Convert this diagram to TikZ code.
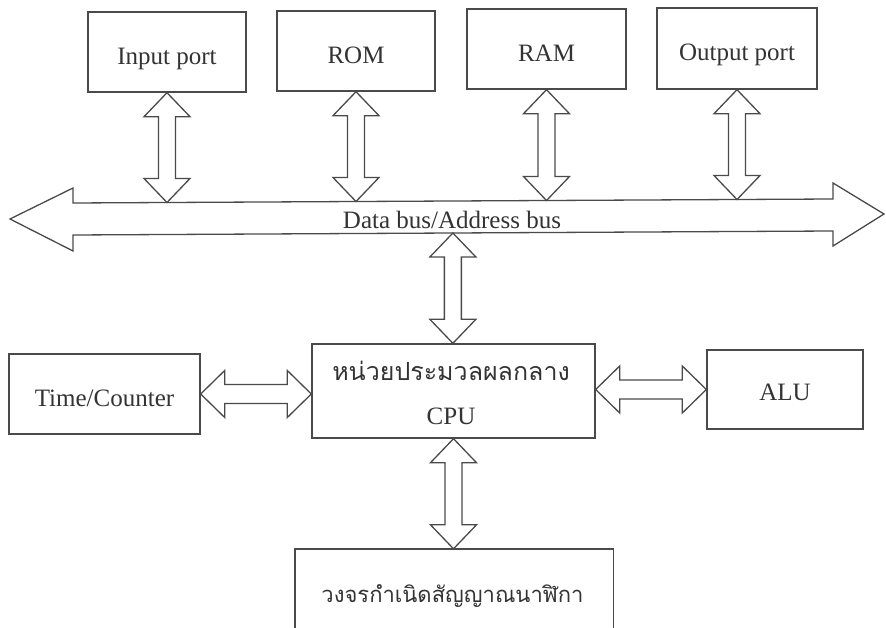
\documentclass[tikz,border=0pt]{standalone}
\usepackage{fontspec}
\setmainfont{Liberation Serif}
\newfontfamily\thaifont[Script=Thai]{Loma}
\usetikzlibrary{calc}
\definecolor{ink}{HTML}{4A4A4A}
\definecolor{txt}{HTML}{333333}
\tikzset{
  unitbox/.style={draw=ink, line width=1.4pt, text=txt, inner sep=0pt,
    font=\fontsize{25}{30}\selectfont, text height=30pt, text depth=5pt},
  blk/.style={draw=ink, line width=1.3pt, fill=white, line join=miter, miter limit=10},
  lbl/.style={text=txt, inner sep=0pt, anchor=base, font=\fontsize{25}{30}\selectfont},
  thlbl/.style={text=txt, inner sep=0pt, anchor=base, font=\fontsize{25}{30}\selectfont\thaifont},
}
% vertical two-headed block arrow: #1 upper end, #2 lower end
\newcommand\vlink[2]{%
  \draw[blk] let \p1=(#1), \p2=(#2) in
    (\x1,\y1) -- (\x1+23pt,\y1-24pt) -- (\x1+8.5pt,\y1-24pt) -- (\x1+8.5pt,\y2+24pt)
    -- (\x1+23pt,\y2+24pt) -- (\x1,\y2) -- (\x1-23pt,\y2+24pt) -- (\x1-8.5pt,\y2+24pt)
    -- (\x1-8.5pt,\y1-24pt) -- (\x1-23pt,\y1-24pt) -- cycle;}
% horizontal two-headed block arrow: #1 left end, #2 right end
\newcommand\hlink[2]{%
  \draw[blk] let \p1=(#1), \p2=(#2) in
    (\x1,\y1) -- (\x1+24pt,\y1+23.5pt) -- (\x1+24pt,\y1+9.5pt) -- (\x2-24pt,\y1+9.5pt)
    -- (\x2-24pt,\y1+23.5pt) -- (\x2,\y1) -- (\x2-24pt,\y1-23.5pt) -- (\x2-24pt,\y1-9.5pt)
    -- (\x1+24pt,\y1-9.5pt) -- (\x1+24pt,\y1-23.5pt) -- cycle;}
\begin{document}
\begin{tikzpicture}[x=1pt,y=-1pt]
\useasboundingbox (0,0) rectangle (886,628);

% system bus
\coordinate (tl) at (73,203); \coordinate (tr) at (833,199);
\coordinate (bl) at (73,235); \coordinate (br) at (833,231);
\draw[blk] (10,219) -- (73,188) -- (tl) -- (tr) -- (833,183) -- (884,214)
  -- (833,246) -- (br) -- (bl) -- (73,251) -- cycle;
\node[lbl] (bus) at (452,229) {Data bus/Address bus};

% peripherals on the bus
\node[unitbox, minimum width=158pt, minimum height=80pt] (inp) at (167,52) {Input port};
\node[unitbox, minimum width=158pt, minimum height=80pt] (rom) at (356,51) {ROM};
\node[unitbox, minimum width=159pt, minimum height=80pt] (ram) at (546.5,49) {RAM};
\node[unitbox, minimum width=160pt, minimum height=81pt] (outp) at (737,48.5) {Output port};

\coordinate (inpbus) at ($(tl)!(inp.south)!(tr)$);
\coordinate (rombus) at ($(tl)!(rom.south)!(tr)$);
\coordinate (rambus) at ($(tl)!(ram.south)!(tr)$);
\coordinate (outbus) at ($(tl)!(outp.south)!(tr)$);
\vlink{inp.south}{inpbus}
\vlink{rom.south}{rombus}
\vlink{ram.south}{rambus}
\vlink{outp.south}{outbus}

% processor and its neighbours
\node[unitbox, minimum width=283pt, minimum height=94pt] (cpu) at (453.5,391) {};
\node[thlbl] (cputh) at (451,380) {หน่วยประมวลผลกลาง};
\node[lbl] (cpuen) at (451,424) {CPU};

\node[unitbox, minimum width=191pt, minimum height=80pt] (tc) at (104.5,394) {Time/Counter};
\node[unitbox, minimum width=156pt, minimum height=79pt, text height=27pt] (alu) at (785,389.5) {ALU};

\coordinate (cpubus) at ($(bl)!(cpu.north)!(br)$);
\vlink{cpubus}{cpu.north}
\hlink{tc.east}{cpu.west |- tc.east}
\hlink{cpu.east |- alu.west}{alu.west}

% clock generator
\node[minimum width=318pt, minimum height=82pt, inner sep=0pt] (clk) at (454,590) {};
\draw[draw=ink, line width=1.4pt] (clk.south west) -- (clk.north west) -- (clk.north east) -- (clk.south east);
\node[thlbl, font=\fontsize{22}{27}\selectfont\thaifont] (clktxt) at (452.5,602) {วงจรกำเนิดสัญญาณนาฬิกา};
\vlink{cpu.south}{clk.north}
\end{tikzpicture}
\end{document}
